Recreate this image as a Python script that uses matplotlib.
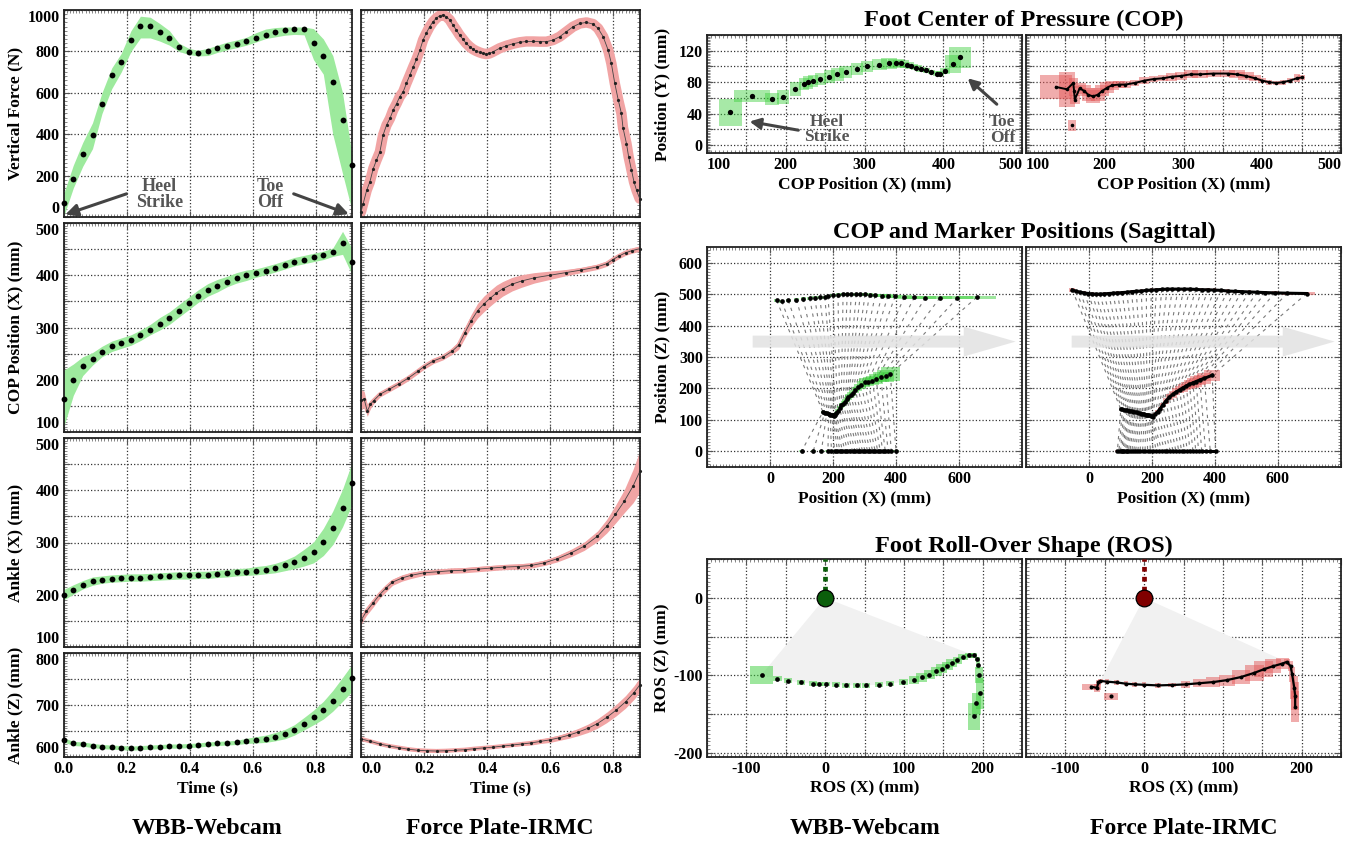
import matplotlib
matplotlib.use('Agg')
import matplotlib.pyplot as plt
from matplotlib.patches import Rectangle, FancyArrow, Polygon
from matplotlib.ticker import MultipleLocator, FuncFormatter

plt.rcParams['font.family'] = ['Liberation Serif', 'DejaVu Serif']
plt.rcParams['font.weight'] = 'bold'
plt.rcParams['axes.labelweight'] = 'bold'

# ---------------- time series, WBB-Webcam ----------------
wbb_t = [0.000, 0.031, 0.061, 0.092, 0.122, 0.153, 0.183, 0.214, 0.244, 0.275, 0.305,
         0.336, 0.366, 0.397, 0.427, 0.458, 0.488, 0.519, 0.549, 0.580, 0.610, 0.641,
         0.671, 0.702, 0.732, 0.763, 0.793, 0.824, 0.854, 0.885, 0.915]
wbb_force = [69, 182, 306, 395, 548, 684, 750, 855, 924, 924, 892, 866, 819, 798, 794, 802,
             815, 827, 837, 852, 866, 881, 894, 903, 906, 906, 842, 777, 652, 471, 250]
wbb_force_lo = [0, 140, 245, 330, 500, 620, 700, 800, 865, 865, 850, 830, 800, 785, 778, 780,
                795, 808, 818, 830, 845, 862, 870, 878, 882, 880, 760, 690, 400, 210, 30]
wbb_force_hi = [110, 250, 360, 455, 600, 720, 790, 900, 970, 965, 935, 900, 840, 815, 805, 815,
                830, 845, 855, 868, 890, 908, 915, 918, 918, 918, 910, 860, 780, 600, 300]
wbb_copx = [163, 200, 226, 240, 254, 264, 270, 276, 285, 296, 307, 318, 332, 346, 360, 372,
            380, 388, 395, 400, 404, 409, 414, 420, 426, 430, 434, 438, 444, 462, 426]
wbb_copx_sd = [55, 30, 18, 12, 10, 10, 10, 10, 10, 10, 12, 12, 12, 12, 12, 12,
               12, 10, 10, 10, 8, 8, 8, 8, 8, 8, 8, 8, 8, 22, 25]
wbb_ankx = [200, 210, 219, 226, 229, 231, 232, 233, 233, 234, 235, 236, 237, 237, 238, 238,
            240, 241, 243, 244, 246, 248, 251, 256, 262, 271, 281, 301, 328, 366, 413]
wbb_ankx_sd = [10, 9, 8, 8, 7, 7, 7, 7, 7, 7, 7, 7, 7, 7, 7, 7,
               7, 7, 7, 7, 8, 8, 9, 10, 12, 16, 20, 26, 32, 36, 40]
wbb_ankz = [633, 626, 625, 622, 620, 619, 618, 617, 618, 619, 620, 621, 621, 622, 623, 625,
            626, 627, 628, 631, 633, 635, 639, 644, 652, 664, 676, 690, 708, 730, 752]
wbb_ankz_sd = [4, 4, 4, 4, 4, 4, 4, 4, 4, 4, 4, 4, 4, 4, 4, 4,
               4, 4, 4, 5, 6, 7, 8, 9, 10, 12, 14, 17, 20, 23, 26]

# ---------------- time series, Force Plate-IRMC ----------------
fp_force_t = [0.000, 0.007, 0.018, 0.028, 0.039, 0.049, 0.060, 0.070, 0.081, 0.092, 0.102,
              0.113, 0.123, 0.134, 0.144, 0.155, 0.166, 0.176, 0.187, 0.197, 0.208, 0.218,
              0.229, 0.239, 0.250, 0.261, 0.271, 0.282, 0.292, 0.303, 0.313, 0.324, 0.334,
              0.345, 0.356, 0.366, 0.377, 0.387, 0.398, 0.408, 0.419, 0.440, 0.461, 0.483,
              0.504, 0.525, 0.546, 0.567, 0.589, 0.610, 0.631, 0.652, 0.673, 0.695, 0.716,
              0.737, 0.753, 0.769, 0.785, 0.795, 0.806, 0.817, 0.827, 0.832, 0.843, 0.850,
              0.859, 0.867, 0.875, 0.885]
fp_force = [25, 65, 129, 169, 234, 274, 315, 395, 444, 476, 516, 548, 581, 605, 645, 685,
            726, 761, 806, 855, 890, 919, 944, 960, 973, 976, 968, 952, 927, 903, 879, 858,
            839, 823, 810, 802, 795, 790, 787, 790, 798, 815, 827, 837, 844, 848, 848, 847,
            847, 855, 871, 895, 919, 935, 940, 932, 911, 871, 806, 742, 645, 565, 500, 431,
            355, 290, 226, 169, 129, 89]
fp_copx_t = [0, .01, .02, .03, .04, .06, .09, .12, .15, .18, .2, .23, .26, .29, .31, .33, .35,
             .37, .39, .41, .43, .45, .48, .51, .55, .6, .65, .7, .75, .78, .8, .82, .84, .86, .886]
fp_copx = [161, 163, 140, 153, 160, 172, 182, 192, 203, 216, 225, 236, 243, 255, 266, 290, 313,
           332, 345, 356, 366, 374, 383, 389, 395, 400, 405, 410, 416, 422, 430, 437, 443, 447, 451]
fp_copx_sd = [20, 15, 10, 8, 6, 5, 5, 5, 5, 5, 5, 5, 5, 6, 8, 10, 12,
              14, 15, 15, 15, 14, 13, 12, 10, 8, 6, 5, 5, 5, 5, 5, 5, 5, 5]
fp_ankx_t = [0, .017, .038, .059, .08, .1, .13, .158, .2, .243, .285, .328, .37, .412,
             .455, .497, .54, .582, .624, .667, .709, .751, .78, .808, .836, .864, .886]
fp_ankx = [151, 168, 184, 200, 213, 224, 232, 237, 242, 244, 246, 247, 249, 251,
           253, 254, 256, 261, 269, 280, 293, 312, 331, 354, 379, 408, 437]
fp_ankx_sd = [8, 8, 8, 7, 7, 6, 6, 6, 5, 5, 5, 5, 5, 5,
              5, 5, 5, 5, 6, 7, 8, 10, 13, 17, 22, 32, 40]
fp_ankz_t = [0, .03, .06, .09, .12, .15, .18, .21, .24, .27, .30, .33, .36, .39, .42, .45,
             .48, .51, .54, .57, .60, .63, .66, .69, .72, .75, .78, .81, .84, .867, .886]
fp_ankz = [635, 630, 625, 621, 618, 615, 613, 612, 611.5, 612, 613, 614, 616, 617.5, 619, 621,
           623, 625, 627, 630, 633, 637, 642, 648, 655, 664, 676, 690, 706, 724, 739]
fp_ankz_sd = [2, 2, 2, 2, 2, 2, 2, 2, 2, 2, 2, 2, 2, 2, 2, 2,
              3, 3, 4, 4, 5, 5, 6, 7, 8, 9, 10, 11, 12, 13, 14]

# ---------------- foot centre of pressure ----------------
wbb_cop_x = [129.8, 157.4, 183, 196.6, 212, 223, 228.5, 234.5, 244, 255, 265.5, 276, 290.6, 303,
             319, 331.5, 339.6, 346.8, 353.6, 359.6, 366, 372, 378.7, 385, 391.5, 396, 402,
             412.8, 421.7]
wbb_cop_y = [41.5, 62.7, 58.5, 61, 71, 77.5, 79.7, 81.4, 84, 87, 90, 93, 96.6, 100, 102, 103.8,
             103.8, 103.8, 102, 100.4, 98.3, 96.6, 95, 92.8, 90.7, 91, 94, 103, 111.4]
wbb_cop_sx = [14.5, 23, 9, 8, 7, 6, 6, 6, 7, 7, 8, 8, 8, 8, 9, 10, 10, 10, 9, 8, 7, 6, 5, 5, 5,
              5, 6, 10, 14]
wbb_cop_sy = [17, 8, 8, 9, 9, 8, 8, 8, 8, 8, 8, 8, 8, 7, 7, 7, 6, 5, 4, 3, 3, 3, 3, 3, 3, 3, 4,
              11, 13]
fp_cop_x = [138, 152, 160, 161, 162, 168, 174, 179, 185, 191, 197, 203, 209, 218, 226, 238, 250,
            262, 274, 285, 297, 309, 321, 338, 356, 368, 379, 391, 400, 409, 418, 426, 435, 444, 450]
fp_cop_y = [74, 71, 79, 69, 58, 72, 69, 64, 62, 64, 69, 73, 76, 77, 77, 79, 82, 84, 85, 87, 88,
            90, 90, 91, 91, 90, 88, 85, 82, 80, 79, 80, 82, 85, 86]
fp_cop_sx = [20, 10, 6, 6, 6, 8, 8, 8, 9, 9, 9, 9, 9, 8, 7, 6, 6, 6, 6, 7, 8, 9, 10, 10, 10, 10,
             10, 8, 5, 4, 4, 4, 4, 4, 4]
fp_cop_sy = [15, 22, 6, 6, 6, 7, 7, 8, 8, 8, 7, 7, 6, 5, 4, 4, 4, 4, 4, 5, 5, 5, 5, 5, 5, 5, 5,
             4, 3, 3, 3, 3, 3, 5, 3]
fp_cop_out = (158, 25, 5, 7)

# ---------------- sagittal markers ----------------
wbb_knee_x = [21, 37, 58, 84, 105, 126, 142, 158, 174, 184, 200, 216, 232, 245, 258, 274, 287,
              302, 316, 334, 355, 374, 397, 426, 458, 493, 539, 595, 656]
wbb_knee_z = [480, 477, 480, 482, 485, 487, 489, 490, 490, 493, 496, 498, 500, 500, 500, 500, 500,
              499, 498, 496, 495, 494, 493, 491, 490, 489, 488, 488, 490]
wbb_knee_sx = [8] * 16 + [10, 10, 12, 14, 16, 18, 20, 25, 30, 35, 40, 50, 60]
wbb_ank_x = [168, 174, 180, 186, 191, 196, 200, 203, 206, 210, 215, 221, 226, 232, 239, 244, 249,
             256, 263, 271, 279, 290, 300, 312, 325, 337, 352, 367, 382]
wbb_ank_z = [125, 123, 121, 119, 117, 115, 114, 113, 115, 121, 128, 137, 146, 152, 157, 165, 172,
             179, 185, 194, 203, 211, 219, 222, 225, 230, 236, 241, 246]
wbb_ank_sx = [6] * 10 + [8, 8, 8, 8, 9, 9, 10, 10, 11, 12, 13, 14, 16, 18, 20, 22, 25, 28, 30]
wbb_ank_sz = [4] * 10 + [6, 6, 7, 7, 8, 8, 9, 9, 10, 10, 11, 12, 13, 14, 15, 16, 17, 19, 21]
wbb_sag_cop = [100, 137, 163, 184, 195, 205, 214, 222, 230, 238, 246, 254, 262, 270, 278, 286, 294,
               302, 310, 318, 326, 334, 342, 350, 358, 366, 375, 385, 400]

fp_knee_x = [-53, -40, -28, -15, -2, 10, 22, 35, 48, 62, 76, 90, 105, 120, 135, 150, 166, 182,
             198, 214, 231, 248, 265, 283, 301, 320, 339, 358, 378, 398, 419, 440, 462, 485, 509,
             534, 560, 590, 630, 691]
fp_knee_z = [513, 509, 506, 504, 502, 501, 500, 500, 501, 502, 503, 504, 505, 506, 508, 509, 510,
             512, 513, 514, 515, 516, 516, 516, 516, 516, 515, 514, 514, 513, 512, 510, 509, 508,
             507, 506, 505, 504, 503, 502]
fp_knee_sx = [10] + [5] * 36 + [10, 18, 28]
fp_ank_x = [101, 106, 111, 116, 121, 126, 131, 136, 141, 146, 151, 156, 161, 166, 171, 176, 180,
            184, 188, 192, 196, 199, 202, 210, 218, 226, 234, 244, 255, 266, 277, 288, 298, 309,
            319, 330, 340, 352, 366, 391]
fp_ank_z = [134, 133, 132, 131, 130, 129, 128, 127, 126, 125, 124, 122, 121, 120, 119, 118, 117,
            116, 115, 114, 112, 111, 110, 118, 126, 136, 147, 160, 172, 181, 189, 196, 202, 208,
            213, 218, 222, 227, 232, 242]
fp_ank_sx = [4] * 23 + [6, 7, 8, 9, 10, 11, 12, 13, 14, 15, 16, 17, 18, 19, 20, 22, 25]
fp_ank_sz = [4] * 23 + [4, 5, 6, 7, 8, 9, 10, 11, 12, 13, 14, 15, 16, 16, 17, 18, 18]
fp_sag_cop = [90, 95, 100, 104, 108, 112, 116, 120, 125, 130, 136, 142, 148, 155, 162, 170, 178,
              186, 195, 204, 213, 222, 231, 240, 249, 258, 267, 276, 285, 294, 303, 312, 321, 330,
              339, 348, 358, 370, 385, 402]

# ---------------- roll-over shape ----------------
wbb_ros_x = [-80.7, -60.8, -47.2, -30.2, -15.7, -7.6, 1.3, 13.6, 26.8, 40, 51.8, 68, 82.9, 99.4,
             112.6, 122.8, 132.2, 141, 148.3, 155, 161, 167.9, 175, 182.7, 188.7, 193.4, 194.2,
             195.5, 196.8, 192, 189]
wbb_ros_z = [-99, -104, -106.7, -109, -110.5, -111, -111, -112, -112.6, -112.6, -112.6, -112,
             -110.5, -108, -105.8, -102.4, -99, -94.8, -91.4, -88, -83.7, -80.7, -76.5, -74, -74,
             -78.6, -86.3, -99.4, -123, -136, -152.6]
wbb_ros_sx = [14.5, 6, 5, 5, 5, 5, 5, 5, 5, 5, 5, 5, 5, 6, 6, 7, 7, 7, 7, 7, 7, 6, 6, 5, 4, 3,
              3, 5, 5, 6, 8]
wbb_ros_sz = [11.5, 3, 3, 3, 3, 3, 3, 3, 3, 3, 3, 3, 3, 4, 5, 6, 6, 6, 6, 5, 5, 4, 4, 3, 3, 3,
              5, 10, 20, 14, 17.5]
fp_ros_x = [-67, -60, -58, -55.5, -47, -35, -23, -12, 0, 17.5, 35, 52.6, 70, 87.7, 105, 123, 140,
            152, 164, 175.4, 181, 186, 188, 190.6, 191.8, 191.8]
fp_ros_z = [-114.5, -116, -109, -107, -108, -109, -110.6, -111.5, -112, -112.8, -112.3, -111.5,
            -110, -108.5, -106, -102, -96.6, -92, -88, -84.7, -82.6, -88, -98.7, -115.7, -126, -140]
fp_ros_sx = [12, 4, 3, 3, 3, 3, 3, 3, 3, 4, 5, 6, 8, 9, 10, 11, 12, 12, 10, 8, 4, 3, 4, 5, 5, 5]
fp_ros_sz = [4, 5, 3, 3, 3, 3, 3, 3, 3, 3, 3, 4, 5, 6, 7, 9, 10, 10, 9, 7, 4, 6, 10, 15, 18, 20]
fp_ros_out = (-42, -127, 9, 4)

GREEN = '#9dea9d'
RED = '#f1a4a4'
BOX_G = '#3ccf3c'
BOX_R = '#e35a5a'
W, H = 1362, 841
TICK = 11.5
LAB = 12.5
TITLE = 17.5

fig = plt.figure(figsize=(W / 100, H / 100), dpi=100)


def add_ax(x0, y0, x1, y1):
    return fig.add_axes([x0 / W, 1 - y1 / H, (x1 - x0) / W, (y1 - y0) / H])


def every(step, fmt, lim=None):
    def f(v, pos):
        if step is None:
            return ''
        if lim is not None and not (lim[0] - 1e-6 <= v <= lim[1] + 1e-6):
            return ''
        k = v / step
        if abs(k - round(k)) < 1e-6:
            return fmt.format(round(v, 6) + 0.0)
        return ''
    return FuncFormatter(f)


def style(ax, xlim, ylim, xgrid, ygrid, xminor, yminor, xlab, ylab, xfmt='{:.0f}', xrange_=None):
    ax.set_xlim(xlim)
    ax.set_ylim(ylim)
    ax.xaxis.set_major_locator(MultipleLocator(xgrid))
    ax.yaxis.set_major_locator(MultipleLocator(ygrid))
    ax.xaxis.set_minor_locator(MultipleLocator(xminor))
    ax.yaxis.set_minor_locator(MultipleLocator(yminor))
    ax.xaxis.set_major_formatter(every(xlab, xfmt, xrange_))
    ax.yaxis.set_major_formatter(every(ylab, '{:.0f}'))
    ax.grid(True, which='major', ls=':', color='#333', lw=0.9)
    ax.set_axisbelow(True)
    ax.tick_params(which='both', direction='in', top=True, right=True, color='#555')
    ax.tick_params(which='major', length=4, width=0.8, labelsize=TICK, pad=3)
    ax.tick_params(which='minor', length=2.5, width=0.5)
    for s in ax.spines.values():
        s.set_linewidth(1.3)
        s.set_color('#222')


def add_boxes(ax, x, y, sx, sy, color, alpha=0.5, z=3):
    for xi, yi, a, b in zip(x, y, sx, sy):
        ax.add_patch(Rectangle((xi - a, yi - b), 2 * a, 2 * b, facecolor=color,
                               edgecolor='none', alpha=alpha, zorder=z))


# ---------------- left block: time series ----------------
rows = [(10, 217), (223, 432), (438, 647), (653, 757)]
cols = [(63.5, 352), (361, 640)]
ylabels = ['Vertical Force (N)', 'COP Position (X) (mm)', 'Ankle (X) (mm)', 'Ankle (Z) (mm)']
ylims = [(0, 1000), (100, 500), (100, 500), (600, 800)]
ygrids = [200, 50, 50, 50]
yminors = [20, 5, 5, 5]
ylabsteps = [200, 100, 100, 100]
edge_y_axes = []
edge_x_axes = []

for r in range(4):
    for c in range(2):
        ax = add_ax(cols[c][0], rows[r][0], cols[c][1], rows[r][1])
        xl = (0, 0.915) if c == 0 else (0, 0.886)
        style(ax, xl, ylims[r], 0.2, ygrids[r], 0.01, yminors[r],
              0.2 if r == 3 else None, ylabsteps[r] if c == 0 else None, '{:.1f}')
        if c == 0:
            ax.set_ylabel(ylabels[r], fontsize=LAB)
            ax.yaxis.set_label_coords(-0.14, 0.5)
            edge_y_axes.append(ax)
        if r == 3:
            ax.set_xlabel('Time (s)', fontsize=LAB, labelpad=2)
            if c == 1:
                edge_x_axes.append(ax)

        if c == 0:
            if r == 0:
                v, lo, hi = wbb_force, wbb_force_lo, wbb_force_hi
            else:
                v, sd = [(wbb_copx, wbb_copx_sd), (wbb_ankx, wbb_ankx_sd), (wbb_ankz, wbb_ankz_sd)][r - 1]
                lo = [a - b for a, b in zip(v, sd)]
                hi = [a + b for a, b in zip(v, sd)]
            ax.fill_between(wbb_t, lo, hi, color=GREEN, lw=0, zorder=1)
            ax.plot(wbb_t, v, 'o', ms=4.2, color='black', mec='none', zorder=4, clip_on=False)
        else:
            if r == 0:
                t, v = fp_force_t, fp_force
                ax.plot(t, v, color=RED, lw=7.5, zorder=1, solid_capstyle='round')
            else:
                t, v, sd = [(fp_copx_t, fp_copx, fp_copx_sd), (fp_ankx_t, fp_ankx, fp_ankx_sd),
                            (fp_ankz_t, fp_ankz, fp_ankz_sd)][r - 1]
                lo = [a - b for a, b in zip(v, sd)]
                hi = [a + b for a, b in zip(v, sd)]
                ax.fill_between(t, lo, hi, color=RED, lw=0, zorder=1)
                ax.plot(t, v, color=RED, lw=3, zorder=1)
            ax.plot(t, v, color='#444', lw=0.6, zorder=3)
            ax.plot(t, v, 'o', ms=2.3, color='#222', mec='none', zorder=4, clip_on=False)

        if r == 0 and c == 0:
            arrow = dict(arrowstyle='-|>', color='#444', lw=2.2, mutation_scale=18,
                         shrinkA=0, shrinkB=0)
            ax.annotate('', xy=(0.006, 12), xytext=(0.2, 112), arrowprops=arrow, zorder=5)
            ax.annotate('', xy=(0.905, 14), xytext=(0.73, 112), arrowprops=arrow, zorder=5)
            ax.text(0.305, 110, 'Heel\nStrike', ha='center', va='center', color='#555',
                    fontsize=13, linespacing=0.95, zorder=5)
            ax.text(0.655, 110, 'Toe\nOff', ha='center', va='center', color='#555',
                    fontsize=13, linespacing=0.95, zorder=5)

# ---------------- right block ----------------
pan_x = [(707, 1022), (1026, 1341)]
mid_x = (707 + 1341) / 2 / W
fig.text(mid_x, 1 - 20 / H, 'Foot Center of Pressure (COP)', ha='center', va='center',
         fontsize=TITLE)
fig.text(mid_x, 1 - 232 / H, 'COP and Marker Positions (Sagittal)', ha='center', va='center',
         fontsize=TITLE)
fig.text(mid_x, 1 - 546 / H, 'Foot Roll-Over Shape (ROS)', ha='center', va='center',
         fontsize=TITLE)

# COP panels
for c in range(2):
    ax = add_ax(pan_x[c][0], 35, pan_x[c][1], 153)
    style(ax, (100, 500), (-10, 140), 50, 20, 5, 2, 100, 40 if c == 0 else None)
    ax.set_xlabel('COP Position (X) (mm)', fontsize=LAB, labelpad=2)
    edge_x_axes.append(ax)
    if c == 0:
        ax.set_ylabel('Position (Y) (mm)', fontsize=LAB)
        ax.yaxis.set_label_coords(-0.115, 0.5)
        add_boxes(ax, wbb_cop_x, wbb_cop_y, wbb_cop_sx, wbb_cop_sy, BOX_G, 0.45)
        ax.plot(wbb_cop_x, wbb_cop_y, 'o', ms=3.8, color='black', mec='none', zorder=5)
        arrow = dict(arrowstyle='-|>', color='#444', lw=2.2, mutation_scale=16, shrinkA=0, shrinkB=0)
        ax.annotate('', xy=(154, 30), xytext=(216, 19), arrowprops=arrow, zorder=6)
        ax.annotate('', xy=(431, 85), xytext=(468, 52), arrowprops=arrow, zorder=6)
        ax.text(252, 20, 'Heel\nStrike', ha='center', va='center', color='#555', fontsize=12.5,
                linespacing=0.95, zorder=6)
        ax.text(475, 19, 'Toe\nOff', ha='center', va='center', color='#555', fontsize=12.5,
                linespacing=0.95, zorder=6)
    else:
        add_boxes(ax, fp_cop_x, fp_cop_y, fp_cop_sx, fp_cop_sy, BOX_R, 0.5)
        ox, oy, osx, osy = fp_cop_out
        add_boxes(ax, [ox], [oy], [osx], [osy], BOX_R, 0.5)
        ax.plot(fp_cop_x, fp_cop_y, color='black', lw=1.4, zorder=5)
        ax.plot(fp_cop_x, fp_cop_y, 'o', ms=2.6, color='black', mec='none', zorder=5)
        ax.plot([ox], [oy], 'o', ms=2.6, color='black', mec='none', zorder=5)

# Sagittal panels
sag = [
    (wbb_knee_x, wbb_knee_z, wbb_knee_sx, wbb_ank_x, wbb_ank_z, wbb_ank_sx, wbb_ank_sz, wbb_sag_cop, BOX_G),
    (fp_knee_x, fp_knee_z, fp_knee_sx, fp_ank_x, fp_ank_z, fp_ank_sx, fp_ank_sz, fp_sag_cop, BOX_R),
]
for c in range(2):
    kx, kz, ksx, ax_, az_, asx, asz, cx, bc = sag[c]
    ax = add_ax(pan_x[c][0], 247, pan_x[c][1], 467)
    style(ax, (-200, 800), (-50, 650), 200, 100, 10, 10, 200, 100 if c == 0 else None,
          xrange_=(0, 600))
    ax.set_xlabel('Position (X) (mm)', fontsize=LAB, labelpad=2)
    if c == 0:
        ax.set_ylabel('Position (Z) (mm)', fontsize=LAB)
        ax.yaxis.set_label_coords(-0.115, 0.5)
    for i in range(len(kx)):
        ax.plot([kx[i], ax_[i], cx[i]], [kz[i], az_[i], 0], color='#7a7a7a', lw=0.8,
                dashes=(3, 4), zorder=2)
    ax.add_patch(FancyArrow(-55, 349, 835, 0, width=38, head_width=95, head_length=165,
                            length_includes_head=True, color='#e2e2e2', alpha=0.85, lw=0,
                            zorder=3))
    add_boxes(ax, kx, kz, ksx, [5] * len(kx), bc, 0.5, 4)
    add_boxes(ax, ax_, az_, asx, asz, bc, 0.5, 4)
    add_boxes(ax, cx, [0] * len(cx), [8] * len(cx), [3] * len(cx), bc, 0.4, 4)
    if c == 0:
        for xs, zs in ((kx, kz), (ax_, az_), (cx, [0] * len(cx))):
            ax.plot(xs, zs, 'o', ms=3.4, color='black', mec='none', zorder=5)
        ax.plot(ax_[:10], az_[:10], color='black', lw=1.8, zorder=5)
    else:
        for xs, zs in ((kx, kz), (ax_, az_), (cx, [0] * len(cx))):
            ax.plot(xs, zs, color='black', lw=2.2, zorder=5)
            ax.plot(xs, zs, 'o', ms=3.2, color='black', mec='none', zorder=5)

# ROS panels
ros = [
    (wbb_ros_x, wbb_ros_z, wbb_ros_sx, wbb_ros_sz, None, BOX_G, '#0b5e0b', 0, 24),
    (fp_ros_x, fp_ros_z, fp_ros_sx, fp_ros_sz, fp_ros_out, BOX_R, '#800000', 3, 20),
]
for c in range(2):
    rx, rz, rsx, rsz, out, bc, ball, f0, f1 = ros[c]
    ax = add_ax(pan_x[c][0], 559, pan_x[c][1], 757)
    style(ax, (-150, 250), (-205, 50), 50, 50, 5, 5, 100, 100 if c == 0 else None)
    ax.set_xlabel('ROS (X) (mm)', fontsize=LAB, labelpad=2)
    if c == 0:
        ax.set_ylabel('ROS (Z) (mm)', fontsize=LAB)
        ax.yaxis.set_label_coords(-0.115, 0.5)
    fan = [(0, 0)] + list(zip(rx[f0:f1 + 1], rz[f0:f1 + 1]))
    ax.add_patch(Polygon(fan, closed=True, facecolor='#f1f1f1', edgecolor='none', zorder=1))
    add_boxes(ax, rx, rz, rsx, rsz, bc, 0.5, 3)
    if out is not None:
        add_boxes(ax, [out[0]], [out[1]], [out[2]], [out[3]], bc, 0.5, 3)
        ax.plot([out[0]], [out[1]], 'o', ms=3, color='black', mec='none', zorder=5)
        ax.plot(rx, rz, color='black', lw=1.6, zorder=5)
        ax.plot(rx, rz, 'o', ms=2.8, color='black', mec='none', zorder=5)
    else:
        ax.plot(rx, rz, 'o', ms=3.4, color='black', mec='none', zorder=5)
    ax.plot([0, 0], [9, 50], color=ball, lw=3.4, dashes=(1, 1.1), zorder=5)
    ax.plot([0], [0], 'o', ms=12, mfc=ball, mec='black', mew=0.9, zorder=6)

# column captions
for xc, txt in ((207, 'WBB-Webcam'), (500, 'Force Plate-IRMC'), (865, 'WBB-Webcam'),
                (1184, 'Force Plate-IRMC')):
    fig.text(xc / W, 1 - 828 / H, txt, ha='center', va='center', fontsize=17)

# keep the edge tick labels of neighbouring panels inside their own axes
fig.canvas.draw()
for ax in edge_y_axes:
    lo, hi = ax.get_ylim()
    for tick in ax.yaxis.get_major_ticks():
        loc = tick.get_loc()
        if abs(loc - hi) < 1e-6:
            tick.label1.set_va('top')
        elif abs(loc - lo) < 1e-6:
            tick.label1.set_va('bottom')
for ax in edge_x_axes:
    lo, hi = ax.get_xlim()
    for tick in ax.xaxis.get_major_ticks():
        loc = tick.get_loc()
        if abs(loc - hi) < 1e-6:
            tick.label1.set_ha('right')
        elif abs(loc - lo) < 1e-6:
            tick.label1.set_ha('left')

fig.savefig('out.png', dpi=100)
